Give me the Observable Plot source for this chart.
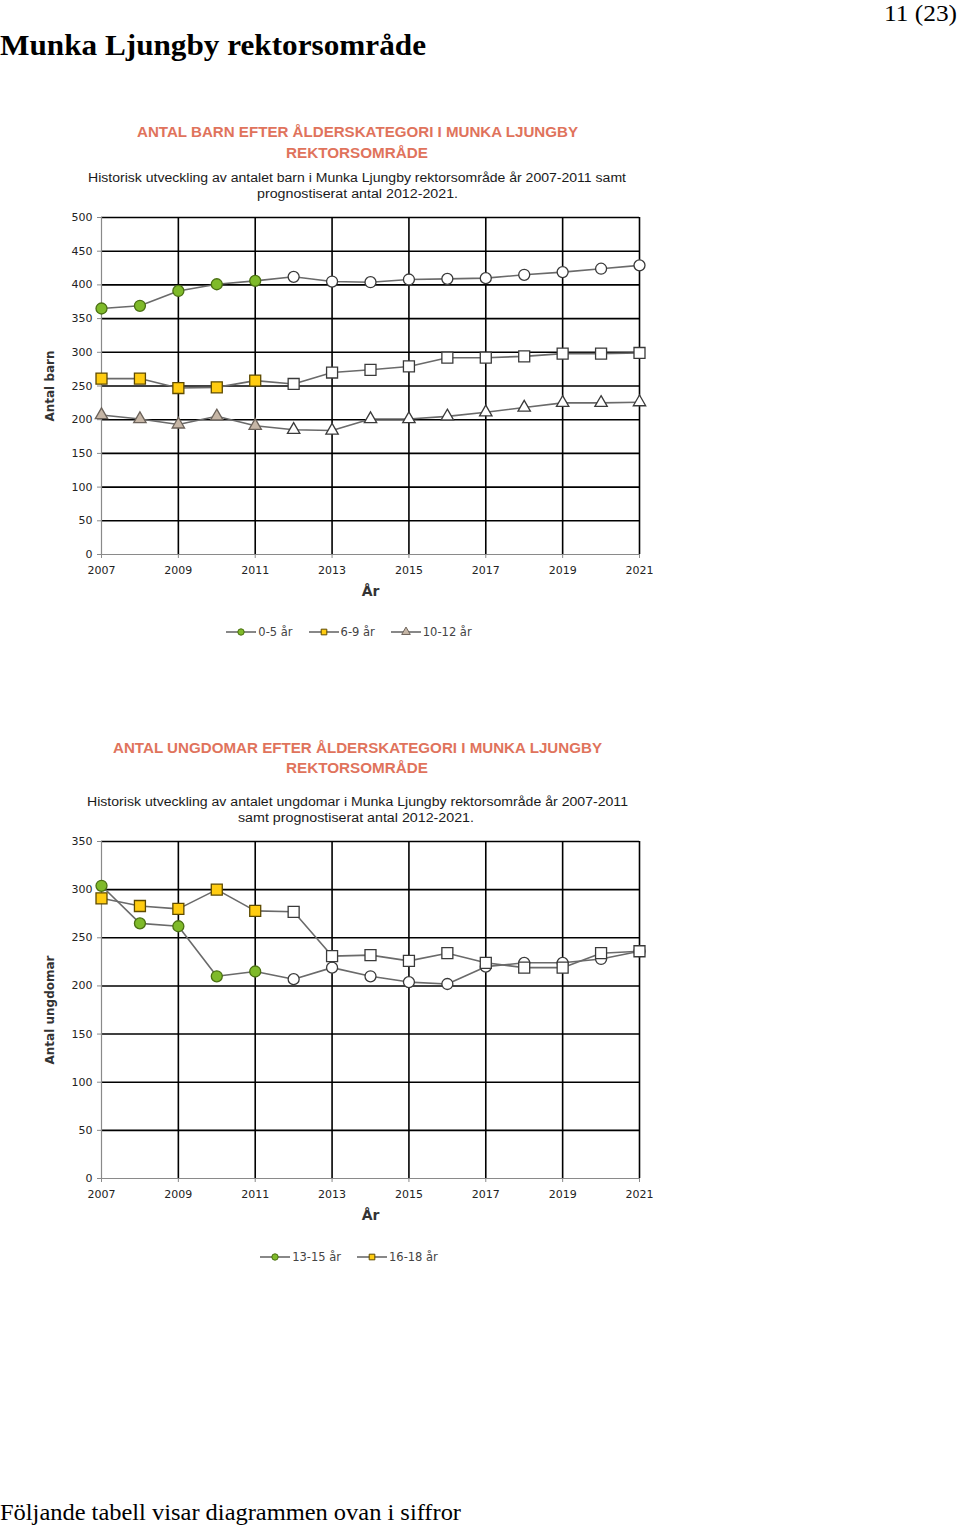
<!DOCTYPE html>
<html><head><meta charset="utf-8">
<script src="https://cdn.jsdelivr.net/npm/d3@7"></script>
<script src="https://cdn.jsdelivr.net/npm/@observablehq/plot@0.6"></script>
<style>
body{margin:0;background:#fff;}
#page{position:relative;width:960px;height:1528px;overflow:hidden;background:#fff;}
.t{position:absolute;white-space:nowrap;transform-origin:left center;}
.chart{position:absolute;left:0;}
.legend{position:absolute;display:flex;align-items:center;white-space:nowrap;font:11.5px "DejaVu Sans";color:#444;}
.legend .item{display:flex;align-items:center;margin-right:16px;}
.legend .item:last-child{margin-right:0;}
.legend svg{margin-right:2px;}
</style></head><body><div id="page"></div>
<script>
// ---- data ----
const years = [2007,2008,2009,2010,2011,2012,2013,2014,2015,2016,2017,2018,2019,2020,2021];
const lastHistoricalYear = 2011;
const xTickYears = [2007,2009,2011,2013,2015,2017,2019,2021];

const barn05   = [365,369,391,401,406,412,405,404,408,409,410,415,419,424,429];
const barn69   = [261,261,247,248,258,253,270,274,279,292,292,294,298,298,299];
const barn1012 = [207,201,193,205,191,185,184,201,201,205,211,218,225,225,226];

const ung1315  = [304,265,262,210,215,207,219,210,204,202,220,224,224,228,236];
const ung1618  = [291,283,280,300,278,277,231,232,226,234,224,219,219,234,236];

const barnLabels = ["0-5 år","6-9 år","10-12 år"];
const ungLabels  = ["13-15 år","16-18 år"];

const pageHeading = "Munka Ljungby rektorsområde";
const pageNumber = "11 (23)";
const footerText = "Följande tabell visar diagrammen ovan i siffror";

const chart1Title = ["ANTAL BARN EFTER ÅLDERSKATEGORI I MUNKA LJUNGBY","REKTORSOMRÅDE"];
const chart1Sub = ["Historisk utveckling av antalet barn i Munka Ljungby rektorsområde år 2007-2011 samt","prognostiserat antal 2012-2021."];
const chart2Title = ["ANTAL UNGDOMAR EFTER ÅLDERSKATEGORI I MUNKA LJUNGBY","REKTORSOMRÅDE"];
const chart2Sub = ["Historisk utveckling av antalet ungdomar i  Munka Ljungby rektorsområde år 2007-2011","samt prognostiserat antal 2012-2021."];

// ---- styles ----
const SYM = {
  circle:   {symbol:"circle",   r:5.5, fill:"#7fba2a", stroke:"#4a7012"},
  square:   {symbol:"square",   r:6.2, fill:"#ffcc11", stroke:"#5e4a00"},
  triangle: {symbol:"triangle", r:4.6, fill:"#c6b6a6", stroke:"#6b625a"}
};

const page = document.getElementById("page");

function place(text, o) {
  const el = document.createElement("div");
  el.className = "t";
  el.textContent = text;
  el.style.font = `${o.weight||"normal"} ${o.size}px ${o.font}`;
  el.style.lineHeight = o.size + "px";
  el.style.color = o.color || "#000";
  page.appendChild(el);
  const r = el.getBoundingClientRect();
  const s = o.width ? o.width / r.width : 1;
  const rw = r.width * s;
  const x = o.cx != null ? o.cx - rw/2 : (o.left != null ? o.left : o.right - rw);
  el.style.left = x + "px";
  el.style.top = (o.cy - r.height/2) + "px";
  el.style.transform = `scaleX(${s})`;
}

function makeChart({series, yMax, yLabel, top}) {
  const rows = series.flatMap(s => years.map((yr,i) => ({year: yr, value: s.values[i], key: s.label, hist: yr <= lastHistoricalYear})));
  const marks = [
    Plot.ruleY(d3.range(50, yMax + 1, 50), {stroke:"#000", strokeWidth:1.6}),
    Plot.ruleX(xTickYears.slice(1), {stroke:"#000", strokeWidth:1.6}),
    Plot.ruleX([2007], {stroke:"#8a8a8a", strokeWidth:1.2}),
    Plot.ruleY([0], {stroke:"#8a8a8a", strokeWidth:1.2}),
    Plot.axisY({ticks: d3.range(0, yMax + 1, 50), tickSize:4, tickPadding:5, label:null, stroke:"#8a8a8a", fill:"#222"}),
    Plot.axisX({ticks: xTickYears, tickFormat: d => String(d), tickSize:4, tickPadding:8, label:null, stroke:"#8a8a8a", fill:"#222"}),
    Plot.text(["År"], {frameAnchor:"bottom", dy:41, fontSize:14, fontWeight:"bold", fill:"#333"}),
    Plot.text([yLabel], {frameAnchor:"left", dx:-51, rotate:-90, textAnchor:"middle", fontSize:12, fontWeight:"bold", fill:"#333"}),
    Plot.line(rows, {x:"year", y:"value", z:"key", stroke:"#6a6a6a", strokeWidth:1.6})
  ];
  for (const s of series) {
    const st = SYM[s.symbol];
    const d = rows.filter(r => r.key === s.label);
    marks.push(Plot.dot(d.filter(r => !r.hist), {x:"year", y:"value", symbol:st.symbol, r:st.r, fill:"#fff", stroke:"#3a3a3a", strokeWidth:1.3}));
    marks.push(Plot.dot(d.filter(r => r.hist), {x:"year", y:"value", symbol:st.symbol, r:st.r, fill:st.fill, stroke:st.stroke, strokeWidth:1.3}));
  }
  const svg = Plot.plot({
    width: 680, height: 400,
    marginTop: 12, marginBottom: 51, marginLeft: 101, marginRight: 41,
    x: {domain:[2007, 2021], axis:null},
    y: {domain:[0, yMax], axis:null},
    style: {fontFamily:"DejaVu Sans", fontSize:"11px", color:"#222", background:"transparent"},
    marks
  });
  svg.classList.add("chart");
  svg.style.top = top + "px";
  page.appendChild(svg);
}

function makeLegend(series, cx, cy) {
  const div = document.createElement("div");
  div.className = "legend";
  for (const s of series) {
    const st = SYM[s.symbol];
    const item = document.createElement("div");
    item.className = "item";
    const ns = "http://www.w3.org/2000/svg";
    const sv = document.createElementNS(ns, "svg");
    sv.setAttribute("width", 30); sv.setAttribute("height", 12);
    const ln = document.createElementNS(ns, "line");
    ln.setAttribute("x1", 0); ln.setAttribute("x2", 30); ln.setAttribute("y1", 6); ln.setAttribute("y2", 6);
    ln.setAttribute("stroke", "#555"); ln.setAttribute("stroke-width", 1.4);
    sv.appendChild(ln);
    const p = document.createElementNS(ns, "path");
    const sym = {circle: d3.symbolCircle, square: d3.symbolSquare, triangle: d3.symbolTriangle}[s.symbol];
    p.setAttribute("d", d3.symbol(sym, 32)());
    p.setAttribute("transform", "translate(15,6)");
    p.setAttribute("fill", st.fill); p.setAttribute("stroke", st.stroke); p.setAttribute("stroke-width", 1);
    sv.appendChild(p);
    item.appendChild(sv);
    const tx = document.createElement("span");
    tx.textContent = s.label;
    item.appendChild(tx);
    div.appendChild(item);
  }
  page.appendChild(div);
  const r = div.getBoundingClientRect();
  div.style.left = (cx - r.width/2) + "px";
  div.style.top = (cy - r.height/2) + "px";
}

// ---- page text ----
place(pageNumber, {right:957, cy:13, size:24, font:'"Liberation Serif"', width:73});
place(pageHeading, {left:0, cy:45, size:29, font:'"Liberation Serif"', weight:"bold", width:426});
place(footerText, {left:0, cy:1512, size:24, font:'"Liberation Serif"', width:461});

// ---- chart 1 ----
const titleColor = "#e0735c";
place(chart1Title[0], {cx:357, cy:132, size:14, font:'"Liberation Sans"', weight:"bold", color:titleColor, width:441});
place(chart1Title[1], {cx:357, cy:153, size:14, font:'"Liberation Sans"', weight:"bold", color:titleColor, width:142});
place(chart1Sub[0], {cx:357, cy:178, size:12.5, font:'"Liberation Sans"', color:"#1a1a1a", width:538});
place(chart1Sub[1], {cx:357, cy:194, size:12.5, font:'"Liberation Sans"', color:"#1a1a1a", width:201});
const series1 = [
  {label: barnLabels[0], values: barn05, symbol:"circle"},
  {label: barnLabels[1], values: barn69, symbol:"square"},
  {label: barnLabels[2], values: barn1012, symbol:"triangle"}
];
makeChart({series: series1, yMax: 500, yLabel: "Antal barn", top: 205});
makeLegend(series1, 349, 632);

// ---- chart 2 ----
place(chart2Title[0], {cx:357, cy:748, size:14, font:'"Liberation Sans"', weight:"bold", color:titleColor, width:489});
place(chart2Title[1], {cx:357, cy:768, size:14, font:'"Liberation Sans"', weight:"bold", color:titleColor, width:142});
place(chart2Sub[0], {cx:357, cy:802, size:12.5, font:'"Liberation Sans"', color:"#1a1a1a", width:541});
place(chart2Sub[1], {cx:356, cy:818, size:12.5, font:'"Liberation Sans"', color:"#1a1a1a", width:236});
const series2 = [
  {label: ungLabels[0], values: ung1315, symbol:"circle"},
  {label: ungLabels[1], values: ung1618, symbol:"square"}
];
makeChart({series: series2, yMax: 350, yLabel: "Antal ungdomar", top: 829});
makeLegend(series2, 349, 1257);
</script></body></html>
